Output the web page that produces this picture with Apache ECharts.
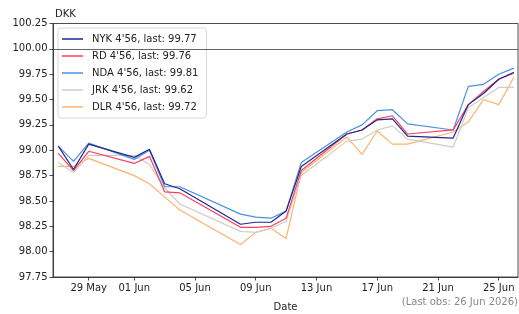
<!DOCTYPE html>
<html>
<head>
<meta charset="utf-8">
<script src="https://cdn.jsdelivr.net/npm/echarts@6/dist/echarts.min.js"></script>
<style>
html,body{margin:0;padding:0;background:#fff;}
#chart{width:519px;height:314px;}
</style>
</head>
<body>
<div id="chart"></div>
<script>
// business days shown on the chart
var dates = ['2026-05-27','2026-05-28','2026-05-29','2026-06-01','2026-06-02','2026-06-03','2026-06-04',
    '2026-06-08','2026-06-09','2026-06-10','2026-06-11','2026-06-12',
    '2026-06-15','2026-06-16','2026-06-17','2026-06-18','2026-06-19',
    '2026-06-22','2026-06-23','2026-06-24','2026-06-25','2026-06-26'];

var nyk = [99.04,98.81,99.06,98.93,99.01,98.67,98.62,98.27,98.29,98.29,98.40,98.84,99.16,99.20,99.30,99.31,99.14,99.12,99.45,99.56,99.70,99.77];
var rd  = [98.97,98.80,98.99,98.87,98.94,98.59,98.58,98.24,98.24,98.25,98.33,98.80,99.16,99.20,99.31,99.34,99.16,99.20,99.45,99.58,99.70,99.76];
var nda = [99.04,98.89,99.07,98.91,99.00,98.64,98.64,98.37,98.34,98.33,98.40,98.88,99.18,99.25,99.39,99.40,99.26,99.20,99.63,99.65,99.75,99.81];
var jrk = [98.88,98.78,98.95,98.95,98.86,98.63,98.47,98.20,98.19,98.23,98.30,98.75,99.09,99.11,99.20,99.24,99.11,99.03,99.42,99.52,99.62,99.62];
var dlr = [98.84,98.84,98.92,98.75,98.67,98.54,98.41,98.07,98.19,98.23,98.13,98.78,99.13,98.96,99.19,99.06,99.06,99.18,99.28,99.50,99.45,99.72];

var seriesNames = ["NYK 4'56", "RD 4'56", "NDA 4'56", "JRK 4'56", "DLR 4'56"];
var seriesColors = ['#1c2a8a', '#ff3d60', '#4a90e2', '#d3ccc5', '#ffb26b'];

var xTicks = ['2026-05-29','2026-06-01','2026-06-05','2026-06-09','2026-06-13','2026-06-17','2026-06-21','2026-06-25'];
var yTicks = [97.75, 98.00, 98.25, 98.50, 98.75, 99.00, 99.25, 99.50, 99.75, 100.00, 100.25];
var refLevel = 100.00;

var months = ['Jan','Feb','Mar','Apr','May','Jun','Jul','Aug','Sep','Oct','Nov','Dec'];
function ts(s){
    var p = s.split('-');
    return Date.UTC(+p[0], +p[1]-1, +p[2]);
}
function fmtDay(v){
    var d = new Date(v);
    var dd = d.getUTCDate();
    return (dd < 10 ? '0' + dd : dd) + ' ' + months[d.getUTCMonth()];
}

var DAY = 86400000;
var xs = dates.map(ts);
var allValues = [nyk, rd, nda, jrk, dlr];

var chart = echarts.init(document.getElementById('chart'));

var series = allValues.map(function(vals, i){
    var s = {
        name: seriesNames[i],
        type: 'line',
        data: vals.map(function(v, j){ return [xs[j], v]; }),
        symbol: 'none',
        z: 10 - i,
        lineStyle: { width: 1.2, color: seriesColors[i] },
        itemStyle: { color: seriesColors[i] },
        emphasis: { disabled: true }
    };
    if(i == 0){
        s.markLine = {
            silent: true,
            symbol: 'none',
            label: { show: false },
            lineStyle: { color: '#555', width: 0.9, type: 'solid' },
            data: [{ yAxis: refLevel }]
        };
    }
    return s;
});

var lastDate = new Date(xs[xs.length - 1]);
var lastObs = '(Last obs: ' + fmtDay(xs[xs.length - 1]) + ' ' + lastDate.getUTCFullYear() + ')';

var option = {
    animation: false,
    textStyle: { fontFamily: 'DejaVu Sans' },
    grid: {
        left: 53, right: 1, top: 23.5, bottom: 37,
        outerBoundsMode: 'none',
        show: true, borderColor: '#222', borderWidth: 0.8
    },
    title: {
        text: 'DKK', left: 50, top: 4,
        textStyle: { fontSize: 10, fontWeight: 'normal', color: '#222', fontFamily: 'DejaVu Sans' }
    },
    legend: {
        orient: 'vertical',
        left: 58, top: 28,
        padding: [5, 8, 5, 4],
        itemGap: 5,
        itemWidth: 21, itemHeight: 1.5,
        icon: 'rect',
        backgroundColor: 'rgba(255,255,255,0.85)',
        borderColor: '#d8d8d8', borderWidth: 1, borderRadius: 3,
        data: seriesNames,
        formatter: function(name){
            var i = seriesNames.indexOf(name);
            var vals = allValues[i];
            return name + ', last: ' + vals[vals.length - 1].toFixed(2);
        },
        textStyle: { fontSize: 10, color: '#222', lineHeight: 12, padding: [0, 0, 0, 4], fontFamily: 'DejaVu Sans' }
    },
    xAxis: {
        type: 'value',
        min: xs[0] - 0.35 * DAY,
        max: xs[xs.length - 1] + 0.27 * DAY,
        name: 'Date', nameLocation: 'middle', nameGap: 25,
        nameTextStyle: { fontSize: 10, color: '#222' },
        splitLine: { show: false },
        axisLine: { lineStyle: { color: '#222', width: 0.8 } },
        axisTick: { show: true, length: 3.5, lineStyle: { color: '#222', width: 0.8 }, customValues: xTicks.map(ts) },
        axisLabel: { fontSize: 10, color: '#222', margin: 6, customValues: xTicks.map(ts), formatter: function(v){ return fmtDay(v); } }
    },
    yAxis: {
        type: 'value',
        min: yTicks[0], max: yTicks[yTicks.length - 1], interval: 0.25,
        splitLine: { show: false },
        axisLine: { show: true, lineStyle: { color: '#222', width: 0.8 } },
        axisTick: { show: true, length: 3.5, lineStyle: { color: '#222', width: 0.8 } },
        axisLabel: { fontSize: 10, color: '#222', margin: 5.5, formatter: function(v){ return v.toFixed(2); } }
    },
    graphic: [{
        type: 'text', right: 1, top: 297,
        style: { text: lastObs, fill: '#888', fontSize: 10, fontFamily: 'DejaVu Sans', textAlign: 'right' }
    }],
    series: series
};
chart.setOption(option);
</script>
</body>
</html>
